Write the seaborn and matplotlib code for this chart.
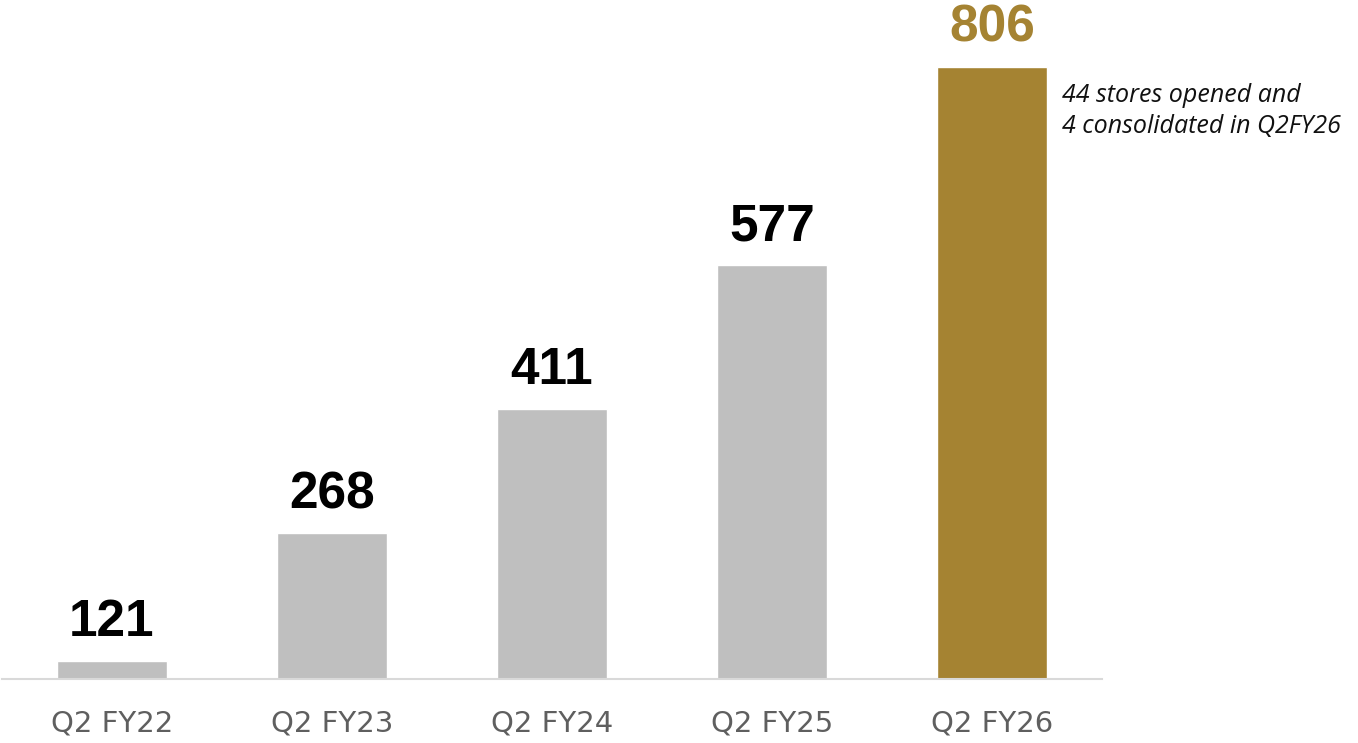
import matplotlib
matplotlib.use("Agg")
import matplotlib.pyplot as plt
import seaborn as sns
import pandas as pd

categories = ["Q2 FY22", "Q2 FY23", "Q2 FY24", "Q2 FY25", "Q2 FY26"]
values = [121, 268, 411, 577, 806]
bar_colors = ["#BFBFBF", "#BFBFBF", "#BFBFBF", "#BFBFBF", "#A58332"]
label_colors = ["#000000", "#000000", "#000000", "#000000", "#A58332"]
note_text = "44 stores opened and\n4 consolidated in Q2FY26"

sns.set_theme(style="white")
plt.rcParams['font.family'] = ['Liberation Sans', 'DejaVu Sans']

df = pd.DataFrame({"cat": categories, "val": values})

fig = plt.figure(figsize=(13.58, 7.43), dpi=100)
ax = fig.add_axes([2/1358, 64/743, 1100/1358, 679/743])
sns.barplot(data=df, x="cat", y="val", hue="cat", palette=bar_colors,
            width=0.5, legend=False, ax=ax, saturation=1)
ax.set_xlim(-0.5, 4.5)
ax.set_ylim(100, 883)

for i, (v, c) in enumerate(zip(values, label_colors)):
    ax.annotate(f"{v}", xy=(i, v), xytext=(0, 10), textcoords="offset points",
                ha="center", va="bottom", fontsize=37, fontweight="bold", color=c)

ax.text(4.32, 806 - 16/0.867, note_text, ha="left", va="top", fontsize=18,
        style="italic", color="#111111", family=["Open Sans", "DejaVu Sans"],
        linespacing=1.32, clip_on=False)

for s in ["top", "right", "left"]:
    ax.spines[s].set_visible(False)
ax.spines["bottom"].set_color("#D9D9D9")
ax.spines["bottom"].set_linewidth(1.5)
ax.set_yticks([])
ax.set_xlabel("")
ax.set_ylabel("")
ax.tick_params(axis="x", length=0, pad=22, labelsize=21, labelcolor="#5F5F5F")
for t in ax.get_xticklabels():
    t.set_family(["DejaVu Sans"])

fig.savefig("out.png", dpi=100)
